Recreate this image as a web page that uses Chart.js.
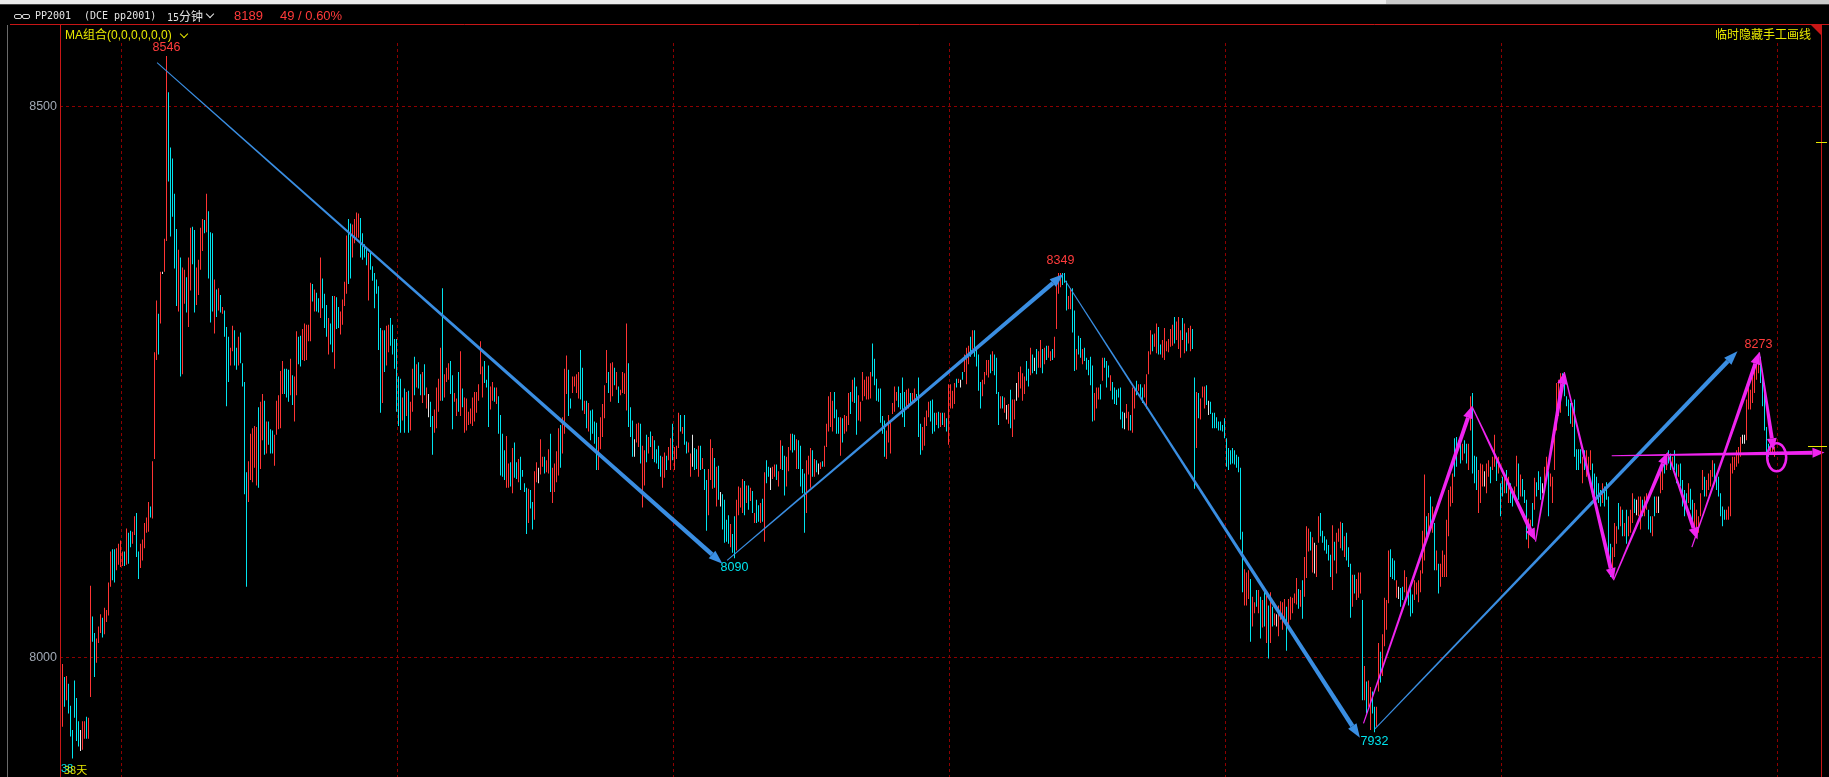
<!DOCTYPE html>
<html lang="zh-CN">
<head>
<meta charset="utf-8">
<title>PP2001 15分钟</title>
<script src="https://cdn.jsdelivr.net/npm/chart.js@4.4.1/dist/chart.umd.min.js"></script>
<style>
    html, body { margin: 0; padding: 0; background: #000; overflow: hidden; }
    #wrap { position: relative; width: 1829px; height: 777px; background: #000; }
    #wrap canvas { position: absolute; left: 0; top: 0; }
    .abs { position: absolute; white-space: nowrap; }
    .mono { font-family: "DejaVu Sans Mono", "Liberation Mono", monospace; font-size: 10px; line-height: 12px; color: #e4e4e4; }
    .cjk { font-family: "Noto Sans CJK SC", sans-serif; }
    .red { font-family: "Liberation Sans", Arial, sans-serif; font-size: 13px; line-height: 14px; color: #ff3a3a; }
    .yellow { color: #e8e800; font-size: 12px; line-height: 14px; }
    .chev { position: absolute; width: 5px; height: 5px; border-right: 1.5px solid; border-bottom: 1.5px solid; transform: rotate(45deg); }
    .link { position: absolute; width: 6px; height: 3px; border: 1px solid #d8d8d8; border-radius: 2px; }
</style>
</head>
<body>
<div id="wrap">
    <canvas id="kline"></canvas>

    <div class="abs" style="left:0;top:0;width:1386px;height:4px;background:#ececec"></div>
    <div class="abs" style="left:1386px;top:0;width:443px;height:4px;background:#cacaca"></div>
    <div class="abs" style="left:0;top:4px;width:1829px;height:1px;background:#444"></div>

    <div class="link" style="left:14px;top:14px"></div>
    <div class="link" style="left:22px;top:14px"></div>
    <div class="abs mono" style="left:35px;top:10px">PP2001</div>
    <div class="abs mono" style="left:84px;top:10px">(DCE pp2001)</div>
    <div class="abs mono" style="left:167px;top:10px">15<span class="cjk" style="font-size:12px">分钟</span></div>
    <div class="chev" style="left:207px;top:11px;color:#e4e4e4"></div>
    <div class="abs red" id="lastPrice" style="left:234px;top:9px"></div>
    <div class="abs red" id="lastChange" style="left:280px;top:9px"></div>

    <div class="abs yellow" style="left:65px;top:27px;font-family:'Liberation Sans',sans-serif">MA<span class="cjk">组合</span>(0,0,0,0,0,0)</div>
    <div class="chev" style="left:181px;top:31px;color:#e8e800"></div>
    <div class="abs yellow cjk" style="right:18px;top:27px">临时隐藏手工画线</div>

    <div class="abs" style="left:61px;top:762px;font:11px 'Liberation Sans',sans-serif;color:#00e0e8">38</div>
    <div class="abs cjk" style="left:64px;top:761px;font-size:11px;color:#e8e800">38天</div>
</div>

<script>
// 15 minute bars, index 0 = first bar on screen
const highs = [
    7994,7982,7983,7976,7956,7934,7979,7963,7942,7934,
    7942,7942,7946,7945,8065,8037,8022,8017,8028,8039,
    8036,8045,8043,8068,8096,8098,8098,8099,8103,8106,
    8096,8096,8117,8113,8115,8114,8128,8131,8096,8103,
    8107,8122,8127,8141,8137,8178,8277,8324,8312,8350,
    8350,8380,8546,8513,8463,8453,8421,8389,8370,8363,
    8354,8352,8345,8363,8390,8391,8388,8354,8361,8390,
    8398,8397,8421,8405,8386,8385,8343,8334,8335,8329,
    8318,8315,8300,8291,8281,8301,8297,8281,8291,8295,
    8267,8250,8168,8178,8203,8208,8210,8209,8227,8232,
    8239,8233,8214,8214,8207,8206,8202,8233,8238,8260,
    8269,8262,8262,8261,8271,8256,8255,8296,8291,8292,
    8298,8303,8302,8302,8340,8339,8334,8331,8326,8363,
    8344,8330,8320,8308,8303,8328,8328,8327,8318,8314,
    8325,8341,8383,8398,8394,8393,8398,8404,8403,8399,
    8385,8375,8372,8367,8367,8355,8349,8343,8337,8299,
    8297,8297,8301,8302,8308,8302,8289,8289,8255,8253,
    8236,8244,8241,8242,8232,8262,8273,8266,8268,8257,
    8259,8266,8245,8239,8232,8219,8225,8245,8253,8281,
    8335,8257,8263,8267,8269,8256,8240,8235,8259,8278,
    8244,8236,8235,8223,8226,8236,8241,8241,8248,8287,
    8264,8269,8252,8265,8246,8250,8245,8245,8237,8220,
    8203,8188,8201,8176,8177,8190,8195,8177,8180,8182,
    8170,8158,8154,8153,8152,8141,8169,8177,8172,8198,
    8182,8182,8179,8189,8203,8172,8176,8187,8208,8211,
    8218,8262,8274,8261,8235,8255,8255,8257,8259,8279,
    8263,8233,8233,8231,8224,8225,8214,8213,8200,8218,
    8230,8247,8279,8259,8267,8268,8263,8259,8246,8243,
    8259,8258,8303,8267,8227,8215,8198,8212,8213,8212,
    8192,8188,8202,8200,8205,8201,8197,8189,8192,8183,
    8182,8186,8183,8191,8199,8212,8191,8192,8222,8220,
    8209,8220,8196,8195,8185,8202,8190,8189,8192,8192,
    8181,8171,8161,8171,8198,8190,8181,8173,8174,8150,
    8148,8143,8125,8129,8121,8112,8128,8143,8155,8154,
    8162,8160,8156,8156,8154,8151,8131,8143,8138,8140,
    8144,8168,8179,8173,8172,8173,8175,8175,8169,8197,
    8192,8183,8182,8191,8203,8203,8202,8198,8197,8192,
    8171,8167,8179,8183,8190,8188,8180,8179,8176,8177,
    8178,8192,8212,8237,8241,8233,8241,8225,8218,8218,
    8217,8220,8219,8240,8241,8252,8254,8246,8238,8232,
    8259,8252,8255,8255,8259,8285,8271,8253,8244,8244,
    8219,8215,8206,8220,8215,8231,8246,8241,8246,8240,
    8254,8241,8243,8244,8240,8240,8244,8239,8254,8212,
    8209,8218,8224,8232,8233,8234,8222,8222,8223,8222,
    8222,8222,8217,8248,8248,8242,8249,8253,8253,8252,
    8259,8275,8281,8283,8291,8297,8297,8279,8275,8250,
    8252,8259,8270,8270,8275,8278,8275,8272,8241,8237,
    8237,8236,8229,8230,8243,8234,8234,8249,8259,8264,
    8258,8255,8269,8262,8281,8275,8272,8280,8278,8288,
    8280,8281,8283,8283,8278,8280,8291,8339,8349,8349,
    8349,8349,8342,8328,8335,8335,8315,8280,8292,8290,
    8280,8281,8272,8270,8273,8265,8240,8245,8245,8248,
    8272,8272,8269,8265,8256,8250,8245,8243,8244,8245,
    8223,8222,8230,8223,8220,8245,8245,8251,8248,8248,
    8245,8248,8257,8278,8297,8293,8294,8303,8300,8284,
    8288,8299,8287,8289,8298,8302,8309,8305,8309,8297,
    8308,8303,8295,8299,8301,8298,8254,8241,8240,8235,
    8246,8246,8247,8233,8232,8222,8222,8218,8214,8214,
    8211,8217,8199,8190,8188,8190,8188,8184,8182,8172,
    8114,8080,8077,8079,8071,8055,8050,8061,8061,8055,
    8052,8060,8056,8047,8059,8046,8040,8039,8047,8051,
    8050,8053,8046,8053,8055,8054,8058,8072,8062,8061,
    8070,8091,8119,8117,8114,8109,8104,8102,8128,8131,
    8115,8110,8107,8102,8093,8120,8105,8113,8117,8123,
    8122,8110,8113,8100,8085,8075,8075,8071,8077,8077,
    8052,7992,7978,7979,7973,7969,7955,7955,8013,8005,
    8021,8054,8052,8097,8098,8090,8088,8070,8064,8063,
    8064,8079,8073,8058,8064,8057,8070,8068,8070,8079,
    8115,8166,8128,8131,8146,8137,8122,8097,8085,8085,
    8097,8093,8125,8152,8155,8167,8199,8200,8197,8197,
    8194,8197,8194,8194,8237,8240,8183,8182,8170,8176,
    8175,8169,8176,8179,8173,8182,8202,8182,8182,8158,
    8164,8164,8170,8164,8158,8153,8155,8183,8176,8166,
    8162,8152,8143,8126,8125,8140,8163,8159,8169,8164,
    8158,8173,8182,8169,8167,8164,8209,8249,8252,8258,
    8258,8252,8237,8234,8231,8231,8234,8189,8189,8189,
    8182,8188,8188,8182,8188,8176,8167,8164,8158,8152,
    8158,8155,8159,8146,8103,8100,8122,8119,8140,8137,
    8134,8122,8134,8128,8134,8149,8144,8143,8146,8146,
    8143,8146,8149,8134,8128,8128,8146,8146,8146,8170,
    8176,8182,8185,8188,8185,8182,8188,8176,8175,8176,
    8161,8152,8149,8158,8153,8143,8140,8134,8128,8149,
    8170,8164,8161,8167,8170,8179,8176,8167,8164,8149,
    8137,8134,8134,8137,8176,8182,8182,8188,8191,8200,
    8202,8202,8234,8246,8243,8255,8261,8270,8273,8273,
    8255,8249,8209,8194,8194,8194,8191
];

const lows = [
    7937,7955,7961,7949,7928,7908,7945,7924,7919,7915,
    7916,7926,7926,7926,7964,8014,7982,7995,8013,8022,
    8018,8021,8032,8038,8064,8070,8068,8079,8084,8082,
    8083,8083,8084,8085,8100,8103,8111,8091,8071,8081,
    8088,8099,8113,8114,8127,8126,8180,8270,8275,8303,
    8348,8350,8378,8432,8382,8400,8353,8319,8314,8255,
    8257,8321,8313,8300,8333,8357,8313,8320,8329,8352,
    8369,8385,8386,8344,8304,8314,8294,8309,8315,8313,
    8312,8291,8228,8250,8265,8278,8265,8261,8265,8267,
    8246,8148,8064,8141,8161,8159,8172,8156,8154,8171,
    8197,8184,8185,8193,8185,8185,8174,8202,8207,8208,
    8239,8239,8236,8232,8238,8229,8214,8238,8266,8264,
    8270,8269,8270,8287,8287,8323,8314,8314,8313,8308,
    8317,8299,8291,8275,8284,8277,8262,8298,8299,8293,
    8302,8319,8330,8339,8344,8363,8376,8381,8381,8363,
    8361,8363,8356,8324,8352,8342,8317,8330,8279,8222,
    8231,8259,8265,8277,8283,8275,8262,8223,8210,8204,
    8215,8204,8219,8204,8206,8223,8238,8245,8244,8238,
    8231,8238,8226,8218,8209,8184,8204,8208,8223,8233,
    8233,8236,8250,8252,8239,8207,8232,8219,8223,8219,
    8227,8204,8206,8211,8212,8210,8214,8222,8233,8257,
    8236,8249,8245,8209,8225,8233,8232,8230,8203,8165,
    8164,8161,8154,8154,8155,8149,8163,8162,8159,8152,
    8164,8150,8112,8122,8135,8116,8125,8159,8158,8166,
    8173,8167,8168,8167,8150,8140,8150,8159,8165,8172,
    8185,8203,8239,8219,8226,8240,8246,8240,8235,8234,
    8224,8221,8208,8205,8197,8203,8194,8170,8170,8189,
    8200,8217,8249,8240,8232,8237,8247,8243,8231,8238,
    8240,8239,8224,8209,8200,8182,8182,8195,8191,8176,
    8136,8156,8177,8185,8191,8180,8177,8176,8171,8164,
    8154,8163,8170,8179,8170,8179,8170,8180,8190,8205,
    8203,8193,8185,8186,8164,8173,8170,8171,8164,8170,
    8171,8152,8115,8129,8161,8153,8154,8137,8143,8137,
    8116,8104,8105,8103,8100,8095,8090,8097,8129,8136,
    8131,8129,8140,8134,8142,8131,8122,8122,8123,8122,
    8123,8105,8158,8164,8152,8162,8164,8161,8155,8171,
    8170,8147,8155,8169,8188,8186,8188,8171,8171,8155,
    8149,8113,8131,8166,8154,8164,8164,8168,8166,8171,
    8173,8173,8191,8205,8209,8205,8217,8203,8203,8183,
    8195,8203,8205,8211,8221,8232,8231,8202,8215,8214,
    8233,8237,8234,8234,8235,8255,8247,8233,8232,8213,
    8203,8182,8180,8195,8185,8221,8223,8233,8227,8225,
    8218,8209,8225,8226,8231,8231,8231,8233,8200,8184,
    8188,8192,8210,8218,8214,8203,8205,8211,8208,8209,
    8211,8209,8205,8193,8226,8226,8230,8245,8249,8245,
    8252,8259,8248,8266,8273,8280,8273,8264,8242,8226,
    8237,8248,8256,8254,8258,8260,8256,8239,8211,8226,
    8226,8222,8216,8212,8208,8200,8216,8233,8236,8244,
    8233,8239,8251,8246,8256,8258,8260,8257,8263,8263,
    8258,8266,8270,8272,8269,8270,8272,8298,8330,8336,
    8338,8340,8315,8316,8316,8295,8260,8261,8275,8272,
    8266,8269,8261,8256,8247,8214,8215,8226,8234,8234,
    8251,8263,8245,8254,8242,8234,8230,8229,8236,8216,
    8208,8207,8217,8206,8206,8204,8226,8238,8242,8236,
    8231,8236,8226,8257,8275,8278,8282,8276,8275,8275,
    8272,8270,8278,8277,8282,8283,8285,8288,8280,8272,
    8288,8276,8278,8285,8278,8280,8153,8190,8217,8216,
    8236,8226,8229,8220,8221,8208,8208,8208,8206,8206,
    8205,8199,8173,8170,8175,8176,8175,8172,8168,8107,
    8059,8047,8047,8053,8014,8028,8040,8046,8040,8017,
    8027,8028,8013,7999,8013,8028,8029,8028,8019,8034,
    8025,8034,8006,8028,8034,8040,8049,8048,8044,8046,
    8035,8055,8072,8096,8097,8077,8076,8073,8104,8110,
    8104,8097,8094,8088,8073,8061,8088,8076,8105,8099,
    8097,8091,8088,8082,8036,8046,8058,8052,8054,8058,
    7961,7961,7949,7955,7934,7949,7932,7937,7969,7977,
    7983,8010,8025,8049,8073,8071,8070,8054,8053,8046,
    8052,8059,8055,8047,8037,8040,8052,8057,8050,8059,
    8076,8088,8110,8110,8119,8113,8079,8079,8058,8064,
    8073,8073,8073,8110,8137,8140,8164,8173,8188,8176,
    8179,8185,8176,8170,8206,8167,8158,8152,8131,8140,
    8155,8155,8149,8164,8158,8170,8173,8160,8167,8128,
    8146,8149,8149,8140,8140,8137,8143,8155,8143,8146,
    8146,8140,8107,8099,8110,8119,8134,8146,8152,8143,
    8149,8154,8161,8128,8155,8140,8170,8206,8219,8222,
    8246,8237,8228,8219,8212,8209,8182,8170,8170,8176,
    8158,8170,8164,8167,8170,8146,8146,8143,8140,8137,
    8140,8137,8143,8085,8073,8073,8091,8103,8116,8119,
    8110,8110,8103,8110,8113,8122,8131,8129,8128,8116,
    8128,8128,8134,8116,8113,8110,8128,8131,8131,8149,
    8152,8167,8170,8176,8170,8173,8170,8158,8164,8155,
    8137,8128,8134,8140,8134,8119,8116,8116,8113,8128,
    8152,8146,8146,8152,8155,8164,8161,8152,8146,8128,
    8119,8125,8125,8125,8128,8167,8170,8173,8176,8182,
    8194,8194,8197,8225,8225,8231,8240,8252,8258,8249,
    8228,8206,8182,8182,8185,8185,8182
];

// r = up bar, c = down bar, w = flat bar
const dirs = [
    'rcrccccccw','rrcrrccrrr','crrrrccrrr','rcrccrrccr','rrrrcrrrcr',
    'wrrcccccrc','rrcrrccrrr','rcrcccrcrc','rcccrrccrc','cccrrrrrcr',
    'rcrcccrrrr','rcccrcrrcc','rrrrrcrccr','cccrccrccr','rrrccrrrrc',
    'cccrcccccc','rcrrcccccc','rcrcrrcrcc','rcrwccrrrr','crrrccrrcr',
    'crrrrrrrrr','rcccrrcrcc','ccrrcrccrc','cccrccrrwr','rcrrcrrrrc',
    'rrrccrrrrc','crcrccccrr','rrrcrrcrcr','rrrcccwrrc','rrcrcrcccc',
    'rrcrrcrrrc','rccrrwccrc','rccrrrcrcw','ccccrccrrr','rcrcrcrccr',
    'crccwrrcrr','ccrrrccrcc','ccrrrcrcwr','crrrrrcccr','crrrcrccrr',
    'rrrrrccccc','ccrrrrrrcc','ccrrcrrccc','rrrrcccrcr','crcrrrrcrw',
    'crrrcrcccc','rrrrcrcccr','crwrcrrwrr','rrccrcwcrr','crcrrcrrrr',
    'cccrrccrcc','rcccccrrrc','rcccrccccc','cwrrcrrcrc','crrrrcrrcc',
    'rrrrrrcrrr','crcrrccrcr','rrcwcccccc','cccccccccc','crrrcrrcrc',
    'rcrcrcrwrr','rrcrrrrrcr','crrrcrwrrc','cccccrcrrr','crcccrcrrr',
    'crcrrccrrc','rrrrcccrwc','crrcccrrrr','rrcrcrcrcr','rrrrrrccrc',
    'rccrrcccrr','rwrrcrrcrc','crcrccrrcr','cccrrcrccc','wrrcrrrrrr',
    'cccccrcccc','rcrrrccccc','rccccrrrcr','crcrrrcwrr','crrccrcrwr',
    'rcrccrccrc','cccrccrrrr','rcrrrrcccc','ccrrrrrrrr','wwrrrrrrrc',
    'ccccrrr'
].join('');

const lastPrice = 8189;
const lastChange = '49 / 0.60%';
const yTicks = [8000, 8500];
const xGrid = [29, 167, 305, 443, 581, 719, 857];

// marked highs and lows: bar index and which end
const extremes = [
    { i: 52, side: 'high' },
    { i: 336, side: 'low' },
    { i: 499, side: 'high' },
    { i: 656, side: 'low' },
    { i: 848, side: 'high' }
];

// hand drawn arrows: [fromIndex, fromPrice, toIndex, toPrice]
const blueArrows = [
    [47.3, 8540, 330, 8085],
    [332.3, 8088, 500.5, 8348],
    [501.4, 8342, 648.7, 7927],
    [656.2, 7935, 837.5, 8278]
];
const pinkArrows = [
    [650.5, 7940, 704.7, 8228],
    [704.7, 8228, 736.4, 8106],
    [736.5, 8105, 750.9, 8259],
    [750.9, 8259, 775.5, 8070],
    [775.5, 8070, 802.5, 8186],
    [802.5, 8186, 817.5, 8107],
    [814.7, 8100, 848.4, 8277],
    [848.4, 8277, 855.5, 8188],
    [774.6, 8183, 881, 8186]
];
const pinkRing = [857.1, 8181.6];
const edgeMarks = [8468, 8192];

const colors = { r: '#ff3434', c: '#00e4ee', w: '#e6e6e6' };
const gridColor = '#8e0000';
const frameColor = '#c81616';
const blue = '#3a8ee2';
const pink = '#f024f0';

document.getElementById('lastPrice').textContent = lastPrice;
document.getElementById('lastChange').textContent = lastChange;

function taper(ctx, x0, y0, x1, y1, w0, w1, head, headW, color) {
    const dx = x1 - x0, dy = y1 - y0, len = Math.hypot(dx, dy);
    const ux = dx / len, uy = dy / len, nx = -uy, ny = ux;
    const bx = x1 - ux * head, by = y1 - uy * head;
    ctx.fillStyle = color;
    ctx.beginPath();
    ctx.moveTo(x0 + nx * w0 / 2, y0 + ny * w0 / 2);
    ctx.lineTo(bx + nx * w1 / 2, by + ny * w1 / 2);
    ctx.lineTo(bx - nx * w1 / 2, by - ny * w1 / 2);
    ctx.lineTo(x0 - nx * w0 / 2, y0 - ny * w0 / 2);
    ctx.closePath();
    ctx.fill();
    ctx.beginPath();
    ctx.moveTo(x1, y1);
    ctx.lineTo(bx + nx * headW, by + ny * headW);
    ctx.lineTo(bx - nx * headW, by - ny * headW);
    ctx.closePath();
    ctx.fill();
}

const drawings = {
    id: 'drawings',
    beforeDatasetsDraw(chart) {
        // session separators on the time axis
        const { ctx, chartArea, scales: { x } } = chart;
        ctx.save();
        ctx.strokeStyle = gridColor;
        ctx.lineWidth = 1;
        ctx.setLineDash([3, 3]);
        xGrid.forEach(v => {
            const px = Math.round(x.getPixelForValue(v)) + 0.5;
            ctx.beginPath();
            ctx.moveTo(px, chartArea.top);
            ctx.lineTo(px, chartArea.bottom);
            ctx.stroke();
        });
        ctx.restore();
    },
    afterDatasetsDraw(chart) {
        const { ctx, chartArea, scales: { x, y } } = chart;
        ctx.save();

        blueArrows.forEach(a => {
            taper(ctx, x.getPixelForValue(a[0]), y.getPixelForValue(a[1]),
                x.getPixelForValue(a[2]), y.getPixelForValue(a[3]), 1, 4.5, 14, 5, blue);
        });
        pinkArrows.forEach(a => {
            taper(ctx, x.getPixelForValue(a[0]), y.getPixelForValue(a[1]),
                x.getPixelForValue(a[2]), y.getPixelForValue(a[3]), 1.2, 4, 12, 5, pink);
        });

        ctx.strokeStyle = pink;
        ctx.lineWidth = 2.5;
        ctx.beginPath();
        ctx.ellipse(x.getPixelForValue(pinkRing[0]), y.getPixelForValue(pinkRing[1]), 9.5, 14, 0, 0, Math.PI * 2);
        ctx.stroke();

        // extreme labels
        ctx.font = '12.5px "Liberation Sans", Arial, sans-serif';
        ctx.textAlign = 'center';
        ctx.textBaseline = 'middle';
        extremes.forEach(m => {
            const v = m.side === 'high' ? highs[m.i] : lows[m.i];
            const px = x.getPixelForValue(m.i);
            let py = y.getPixelForValue(v);
            if (m.side === 'high') {
                py = Math.max(py - 12, chartArea.top + 5);
                ctx.fillStyle = '#ff3c3c';
            } else {
                py = py + 9;
                ctx.fillStyle = '#00e4ee';
            }
            ctx.fillText(String(v), px, py);
        });
        ctx.restore();
    },
    afterDraw(chart) {
        const { ctx, chartArea, scales: { y } } = chart;
        ctx.save();
        ctx.lineWidth = 1;

        ctx.strokeStyle = '#6a6a6a';
        ctx.beginPath();
        ctx.moveTo(7.5, 25);
        ctx.lineTo(7.5, 777);
        ctx.stroke();

        ctx.strokeStyle = frameColor;
        ctx.beginPath();
        ctx.moveTo(10, 24.5);
        ctx.lineTo(1829, 24.5);
        ctx.moveTo(chartArea.left + 0.5, 25);
        ctx.lineTo(chartArea.left + 0.5, 777);
        ctx.moveTo(chartArea.right + 0.5, 25);
        ctx.lineTo(chartArea.right + 0.5, 777);
        ctx.stroke();

        ctx.fillStyle = frameColor;
        ctx.beginPath();
        ctx.moveTo(chartArea.right - 10, 25);
        ctx.lineTo(chartArea.right + 1, 25);
        ctx.lineTo(chartArea.right + 1, 36);
        ctx.closePath();
        ctx.fill();

        ctx.strokeStyle = '#e8e800';
        edgeMarks.forEach((v, k) => {
            const py = Math.round(y.getPixelForValue(v)) + 0.5;
            ctx.beginPath();
            ctx.moveTo(k === 0 ? chartArea.right - 5 : chartArea.right - 13, py);
            ctx.lineTo(chartArea.right + 6, py);
            ctx.stroke();
        });
        ctx.restore();
    }
};

const candleData = highs.map((h, i) => ({ x: i, y: [lows[i], h] }));
const candleColors = highs.map((h, i) => colors[dirs[i]] || colors.c);

new Chart(document.getElementById('kline'), {
    type: 'bar',
    data: {
        datasets: [{
            data: candleData,
            backgroundColor: candleColors,
            borderWidth: 0,
            barThickness: 1,
            inflateAmount: 0
        }]
    },
    options: {
        responsive: true,
        maintainAspectRatio: false,
        devicePixelRatio: 1,
        animation: false,
        events: [],
        layout: { padding: { top: 43, right: 8, left: 0, bottom: 0 } },
        plugins: {
            legend: { display: false },
            tooltip: { enabled: false }
        },
        scales: {
            x: {
                type: 'linear',
                display: false,
                bounds: 'data',
                offset: false,
                min: -1.25,
                max: 879.25
            },
            y: {
                position: 'left',
                bounds: 'data',
                min: 7891.3,
                max: 8557.8,
                afterBuildTicks: s => { s.ticks = yTicks.map(v => ({ value: v })); },
                afterFit: s => {
                    s.width = 60;
                    s.paddingTop = 0;
                    s.paddingBottom = 0;
                },
                ticks: {
                    color: '#a0a8b4',
                    padding: 3,
                    font: { family: '"Liberation Sans", Arial, sans-serif', size: 12.5 },
                    callback: v => String(v)
                },
                grid: { color: gridColor, drawTicks: false, lineWidth: 1 },
                border: { display: false, dash: [3, 3] }
            }
        }
    },
    plugins: [drawings]
});
</script>
</body>
</html>
